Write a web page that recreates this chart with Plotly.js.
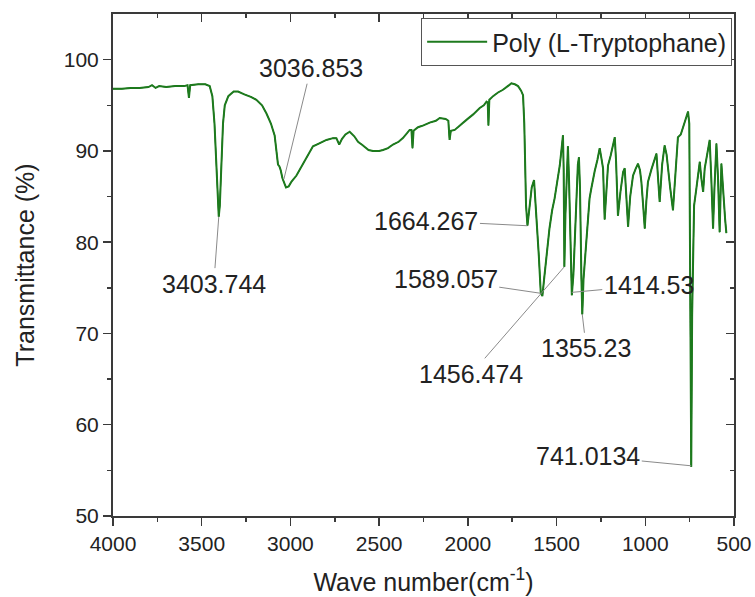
<!DOCTYPE html>
<html>
<head>
<meta charset="utf-8">
<script src="https://cdn.plot.ly/plotly-3.0.1.min.js"></script>
<style>html,body{margin:0;padding:0;background:#fff;}#chart{width:755px;height:597px;}</style>
</head>
<body>
<div id="chart"></div>
<script>
// Poly (L-Tryptophane) FTIR spectrum
const seriesName = "Poly (L-Tryptophane)";
const wavenumber = [
  4000, 3950, 3900, 3850, 3800, 3780, 3760, 3740, 3700, 3650, 3600, 3580, 3572, 3565, 3520, 3480, 3455,
  3440, 3428, 3418, 3410, 3404, 3398, 3390, 3380, 3370, 3350, 3320, 3295, 3260, 3220, 3192, 3160, 3135,
  3110, 3089, 3078, 3070, 3062, 3055, 3045, 3036, 3025, 3010, 2995, 2966, 2940, 2910, 2873, 2840, 2797,
  2760, 2741, 2725, 2710, 2690, 2666, 2640, 2619, 2591, 2560, 2535, 2500, 2478, 2450, 2422, 2390, 2366,
  2340, 2328, 2318, 2312, 2306, 2281, 2250, 2215, 2180, 2159, 2125, 2110, 2103, 2096, 2074, 2040, 2008,
  1970, 1933, 1910, 1895, 1888, 1884, 1879, 1858, 1830, 1802, 1775, 1755, 1735, 1717, 1700, 1689, 1682,
  1677, 1672, 1664, 1655, 1640, 1627, 1615, 1600, 1589, 1580, 1570, 1555, 1540, 1525, 1511, 1495, 1482,
  1472, 1464, 1460, 1456, 1450, 1436, 1430, 1420, 1414, 1405, 1392, 1380, 1374, 1368, 1360, 1355, 1348,
  1332, 1320, 1314, 1305, 1295, 1285, 1270, 1257, 1248, 1238, 1229, 1220, 1210, 1195, 1185, 1172, 1165,
  1154, 1140, 1125, 1116, 1108, 1097, 1085, 1069, 1055, 1041, 1030, 1022, 1012, 1003, 994, 985, 965,
  950, 937, 928, 919, 905, 891, 880, 872, 860, 844, 830, 816, 800, 788, 775, 759, 752, 745, 741, 736,
  725, 712, 700, 693, 684, 674, 665, 650, 637, 628, 618, 610, 599, 590, 581, 571, 560, 550, 543
];
const transmittance = [
  96.8, 96.8, 96.9, 96.9, 97.0, 97.2, 96.9, 97.1, 97.0, 97.1, 97.1, 97.2, 95.8, 97.2, 97.3, 97.3, 97.1,
  96.0, 93.0, 88.0, 84.5, 82.8, 84.0, 88.5, 93.0, 95.0, 96.0, 96.5, 96.5, 96.2, 95.9, 95.6, 95.0, 94.1,
  93.0, 91.7, 90.0, 88.5, 88.3, 87.9, 87.0, 86.5, 86.0, 86.1, 86.6, 87.3, 88.2, 89.2, 90.5, 90.8, 91.2,
  91.4, 91.4, 90.7, 91.3, 91.8, 92.1, 91.6, 91.0, 90.6, 90.1, 90.0, 90.0, 90.1, 90.3, 90.7, 91.0, 91.4,
  92.0, 92.3, 92.3, 90.3, 92.2, 92.6, 92.8, 93.1, 93.3, 93.6, 93.5, 93.3, 91.2, 92.2, 92.3, 92.9, 93.4,
  94.0, 94.7, 95.0, 95.4, 95.3, 92.8, 95.6, 96.0, 96.4, 96.7, 97.1, 97.4, 97.3, 97.1, 96.6, 96.1, 93.0,
  88.0, 84.0, 81.8, 83.5, 86.0, 86.8, 83.5, 78.5, 74.4, 74.1, 76.0, 79.0, 81.5, 83.5, 84.8, 86.8, 88.4,
  90.2, 91.7, 88.0, 77.3, 83.0, 90.5, 87.0, 78.0, 74.2, 76.5, 84.0, 88.5, 89.3, 86.0, 76.0, 72.1, 76.0,
  80.0, 83.5, 84.8, 85.8, 87.0, 87.8, 89.0, 90.3, 89.3, 88.1, 82.5, 85.8, 88.4, 89.5, 90.5, 91.5, 89.0,
  82.9, 85.5, 87.7, 88.1, 85.5, 81.7, 85.0, 87.3, 88.0, 88.6, 87.9, 86.6, 84.0, 81.5, 84.5, 86.6, 88.0,
  89.0, 89.7, 87.0, 84.4, 88.5, 90.6, 89.6, 88.4, 86.0, 83.5, 88.0, 91.5, 91.8, 92.5, 93.3, 94.3, 93.0, 70.0, 55.4, 72.0,
  84.0, 85.9, 87.5, 88.8, 87.0, 85.5, 88.1, 89.8, 91.2, 87.0, 81.5, 86.0, 90.8, 87.0, 81.1, 88.6, 85.0, 82.5, 81.0
];
// Peak labels
const peakLabels = ["3403.744", "3036.853", "1664.267", "1589.057", "1456.474", "1414.53", "1355.23", "741.0134"];
const peakX = [3403.744, 3036.853, 1664.267, 1589.057, 1456.474, 1414.53, 1355.23, 741.0134];
const peakY = [82.8, 86.9, 81.8, 74.4, 77.3, 74.5, 72.1, 55.5];
const labelDX = [-5, 27, -101, -95, -93, 77, 4, -103];
const labelDY = [67, -111, -5, -14, 107, -7, 34, -10];

// Tick values
const xTicks = [4000, 3500, 3000, 2500, 2000, 1500, 1000, 500];
const xMinorTicks = [3750, 3250, 2750, 2250, 1750, 1250, 750];
const yTicks = [50, 60, 70, 80, 90, 100];
const yMinorTicks = [55, 65, 75, 85, 95];

const FONT = 'Arial, "Liberation Sans", Helvetica, sans-serif';
const AX = '#3a3a3a';
const GREEN = '#1e7a1e';

// thin same-coloured copies hidden inside the main line; they only carry the top/right tick axes
function carrier(xa, ya) {
  return {x: wavenumber, y: transmittance, type: 'scatter', mode: 'lines', xaxis: xa, yaxis: ya,
          showlegend: false, line: {width: 0.5, color: GREEN}};
}

const traces = [
  {x: wavenumber, y: transmittance, type: 'scatter', mode: 'lines', name: seriesName,
   line: {color: GREEN, width: 2}},
  carrier('x2', 'y'), carrier('x3', 'y'), carrier('x', 'y2'), carrier('x', 'y3')
];

const annotations = peakLabels.map((t, i) => ({
  x: peakX[i], y: peakY[i], xref: 'x', yref: 'y', text: t,
  showarrow: true, arrowhead: 0, arrowwidth: 1, arrowcolor: '#8a8a8a',
  ax: labelDX[i], ay: labelDY[i], standoff: 0,
  font: {family: FONT, size: 25, color: '#222'}
}));

function tickAxis(over, side, range, vals, len) {
  return {overlaying: over, side: side, range: range, tickvals: vals, showticklabels: false,
          showgrid: false, zeroline: false,
          ticks: 'inside', ticklen: len, tickwidth: 1.5, tickcolor: AX};
}

const layout = {
  width: 755, height: 597,
  margin: {l: 113, r: 21, t: 14, b: 81},
  paper_bgcolor: '#fff', plot_bgcolor: '#fff',
  font: {family: FONT, color: '#222'},
  showlegend: true,
  legend: {x: 0.997, y: 0.992, xanchor: 'right', yanchor: 'top',
           bordercolor: '#555', borderwidth: 1, bgcolor: '#fff',
           font: {family: FONT, size: 25, color: '#222'}, itemwidth: 60},
  xaxis: {
    range: [4000, 500], tickvals: xTicks, ticktext: xTicks.map(String),
    showgrid: false, zeroline: false, showline: true, linecolor: AX, linewidth: 2, mirror: true,
    ticks: 'outside', ticklen: 8, tickwidth: 1.5, tickcolor: AX,
    minor: {tickvals: xMinorTicks, ticks: 'outside', ticklen: 4, tickwidth: 1.5, tickcolor: AX, showgrid: false},
    tickfont: {family: FONT, size: 21, color: '#222'},
    title: {text: 'Wave number(cm<sup>-1</sup>)', font: {family: FONT, size: 25, color: '#222'}, standoff: 19}
  },
  yaxis: {
    range: [50, 105], tickvals: yTicks, ticktext: yTicks.map(String),
    showgrid: false, zeroline: false, showline: true, linecolor: AX, linewidth: 2, mirror: true,
    ticks: 'outside', ticklen: 8, tickwidth: 1.5, tickcolor: AX,
    minor: {tickvals: yMinorTicks, ticks: 'outside', ticklen: 4, tickwidth: 1.5, tickcolor: AX, showgrid: false},
    tickfont: {family: FONT, size: 21, color: '#222'},
    title: {text: 'Transmittance (%)', font: {family: FONT, size: 25, color: '#222'}, standoff: 22}
  },
  xaxis2: tickAxis('x', 'top', [4000, 500], xTicks, 8),
  xaxis3: tickAxis('x', 'top', [4000, 500], xMinorTicks, 4),
  yaxis2: tickAxis('y', 'right', [50, 105], yTicks, 8),
  yaxis3: tickAxis('y', 'right', [50, 105], yMinorTicks, 4),
  annotations: annotations
};

Plotly.newPlot('chart', traces, layout, {displayModeBar: false, staticPlot: true});
</script>
</body>
</html>
